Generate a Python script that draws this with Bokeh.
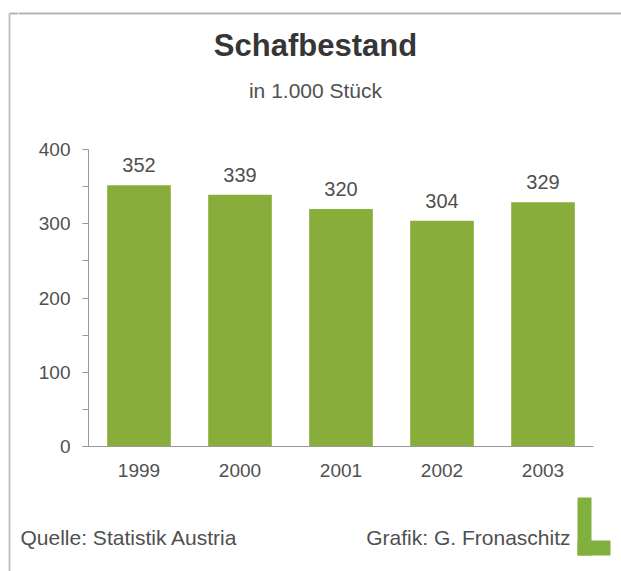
from bokeh.plotting import figure
from bokeh.layouts import column, row
from bokeh.models import (ColumnDataSource, FactorRange, Range1d, SingleIntervalTicker, LabelSet)
from bokeh.core.properties import value
from bokeh.embed import file_html
from bokeh.resources import INLINE

years = ["1999", "2000", "2001", "2002", "2003"]
values = [352, 339, 320, 304, 329]
value_labels = [str(v) for v in values]

title_text = "Schafbestand"
subtitle_text = "in 1.000 Stück"
source_text = "Quelle: Statistik Austria"
credit_text = "Grafik: G. Fronaschitz"

FONT = "Liberation Sans"
TXT = "#505050"
GREEN = "#89ad3b"
LOGO = "#80b03e"
AXIS = "#9a9a9a"
BORDER_TOP = "#b4b4b4"
BORDER_LEFT = "#cbbfc2"

W, H = 621, 571
STRIP = 18
CW = W - STRIP
H_HEAD, H_MAIN, H_FOOT = 131, 359, 81


def blank(width, height):
    f = figure(width=width, height=height, output_backend="svg", toolbar_location=None,
               x_range=Range1d(0, width), y_range=Range1d(height, 0),
               x_axis_type=None, y_axis_type=None, min_border=0,
               outline_line_color=None, background_fill_color="white",
               border_fill_color="white")
    f.xgrid.visible = False
    f.ygrid.visible = False
    return f


# ---- left strip with the frame's corner ----
strip = blank(STRIP, H)
strip.segment(x0=[9, 9], y0=[13, 13], x1=[STRIP, 9], y1=[13, H],
              line_color=[BORDER_TOP, BORDER_LEFT], line_width=[2, 2])

# ---- header ----
head = blank(CW, H_HEAD)
head.segment(x0=[0], y0=[13], x1=[CW], y1=[13], line_color=BORDER_TOP, line_width=2)
head.text(x=[297], y=[45], text=[title_text], text_align="center", text_baseline="middle",
          text_font=value(FONT), text_font_size="31px", text_font_style="bold",
          text_color="#363636")
head.text(x=[297], y=[90], text=[subtitle_text], text_align="center", text_baseline="middle",
          text_font=value(FONT), text_font_size="21px", text_color=TXT)

# ---- main chart ----
src = ColumnDataSource(dict(x=years, top=values, lab=value_labels))

p = figure(width=CW, height=H_MAIN, output_backend="svg", toolbar_location=None,
           x_range=FactorRange(*years, range_padding=0), y_range=Range1d(0, 400),
           min_border_left=70, min_border_right=28, min_border_top=18, min_border_bottom=44,
           background_fill_color="white", border_fill_color="white", outline_line_color=None)

p.vbar(x="x", top="top", width=0.63, source=src, fill_color=GREEN, line_color=None)

p.add_layout(LabelSet(x="x", y="top", text="lab", source=src, text_align="center",
                      text_baseline="middle", y_offset=20, text_font=value(FONT),
                      text_font_size="20px", text_color=TXT))

p.xgrid.visible = False
p.ygrid.visible = False

ya = p.yaxis[0]
ya.ticker = SingleIntervalTicker(interval=100, num_minor_ticks=2)
ya.axis_line_color = AXIS
ya.major_tick_line_color = AXIS
ya.minor_tick_line_color = AXIS
ya.major_tick_in = 0
ya.major_tick_out = 6
ya.minor_tick_in = 0
ya.minor_tick_out = 6
ya.major_label_standoff = 12
ya.major_label_text_font = FONT
ya.major_label_text_font_size = "19px"
ya.major_label_text_color = TXT

xa = p.xaxis[0]
xa.axis_line_color = AXIS
xa.major_tick_line_color = None
xa.minor_tick_line_color = None
xa.major_tick_out = 0
xa.major_label_standoff = 17
xa.major_label_text_font = FONT
xa.major_label_text_font_size = "19px"
xa.major_label_text_color = TXT

# ---- footer ----
foot = blank(CW, H_FOOT)
foot.text(x=[2, 552], y=[47, 47], text=[source_text, credit_text],
          text_align=["left", "right"], text_baseline="middle",
          text_font=value(FONT), text_font_size="21px", text_color=TXT)
foot.quad(left=[559, 559], right=[573, 592], top=[7, 50], bottom=[65, 65],
          fill_color=LOGO, line_color=None)

layout = row(strip, column(head, row(p), foot))

open("out.html", "w").write(file_html(layout, INLINE))
